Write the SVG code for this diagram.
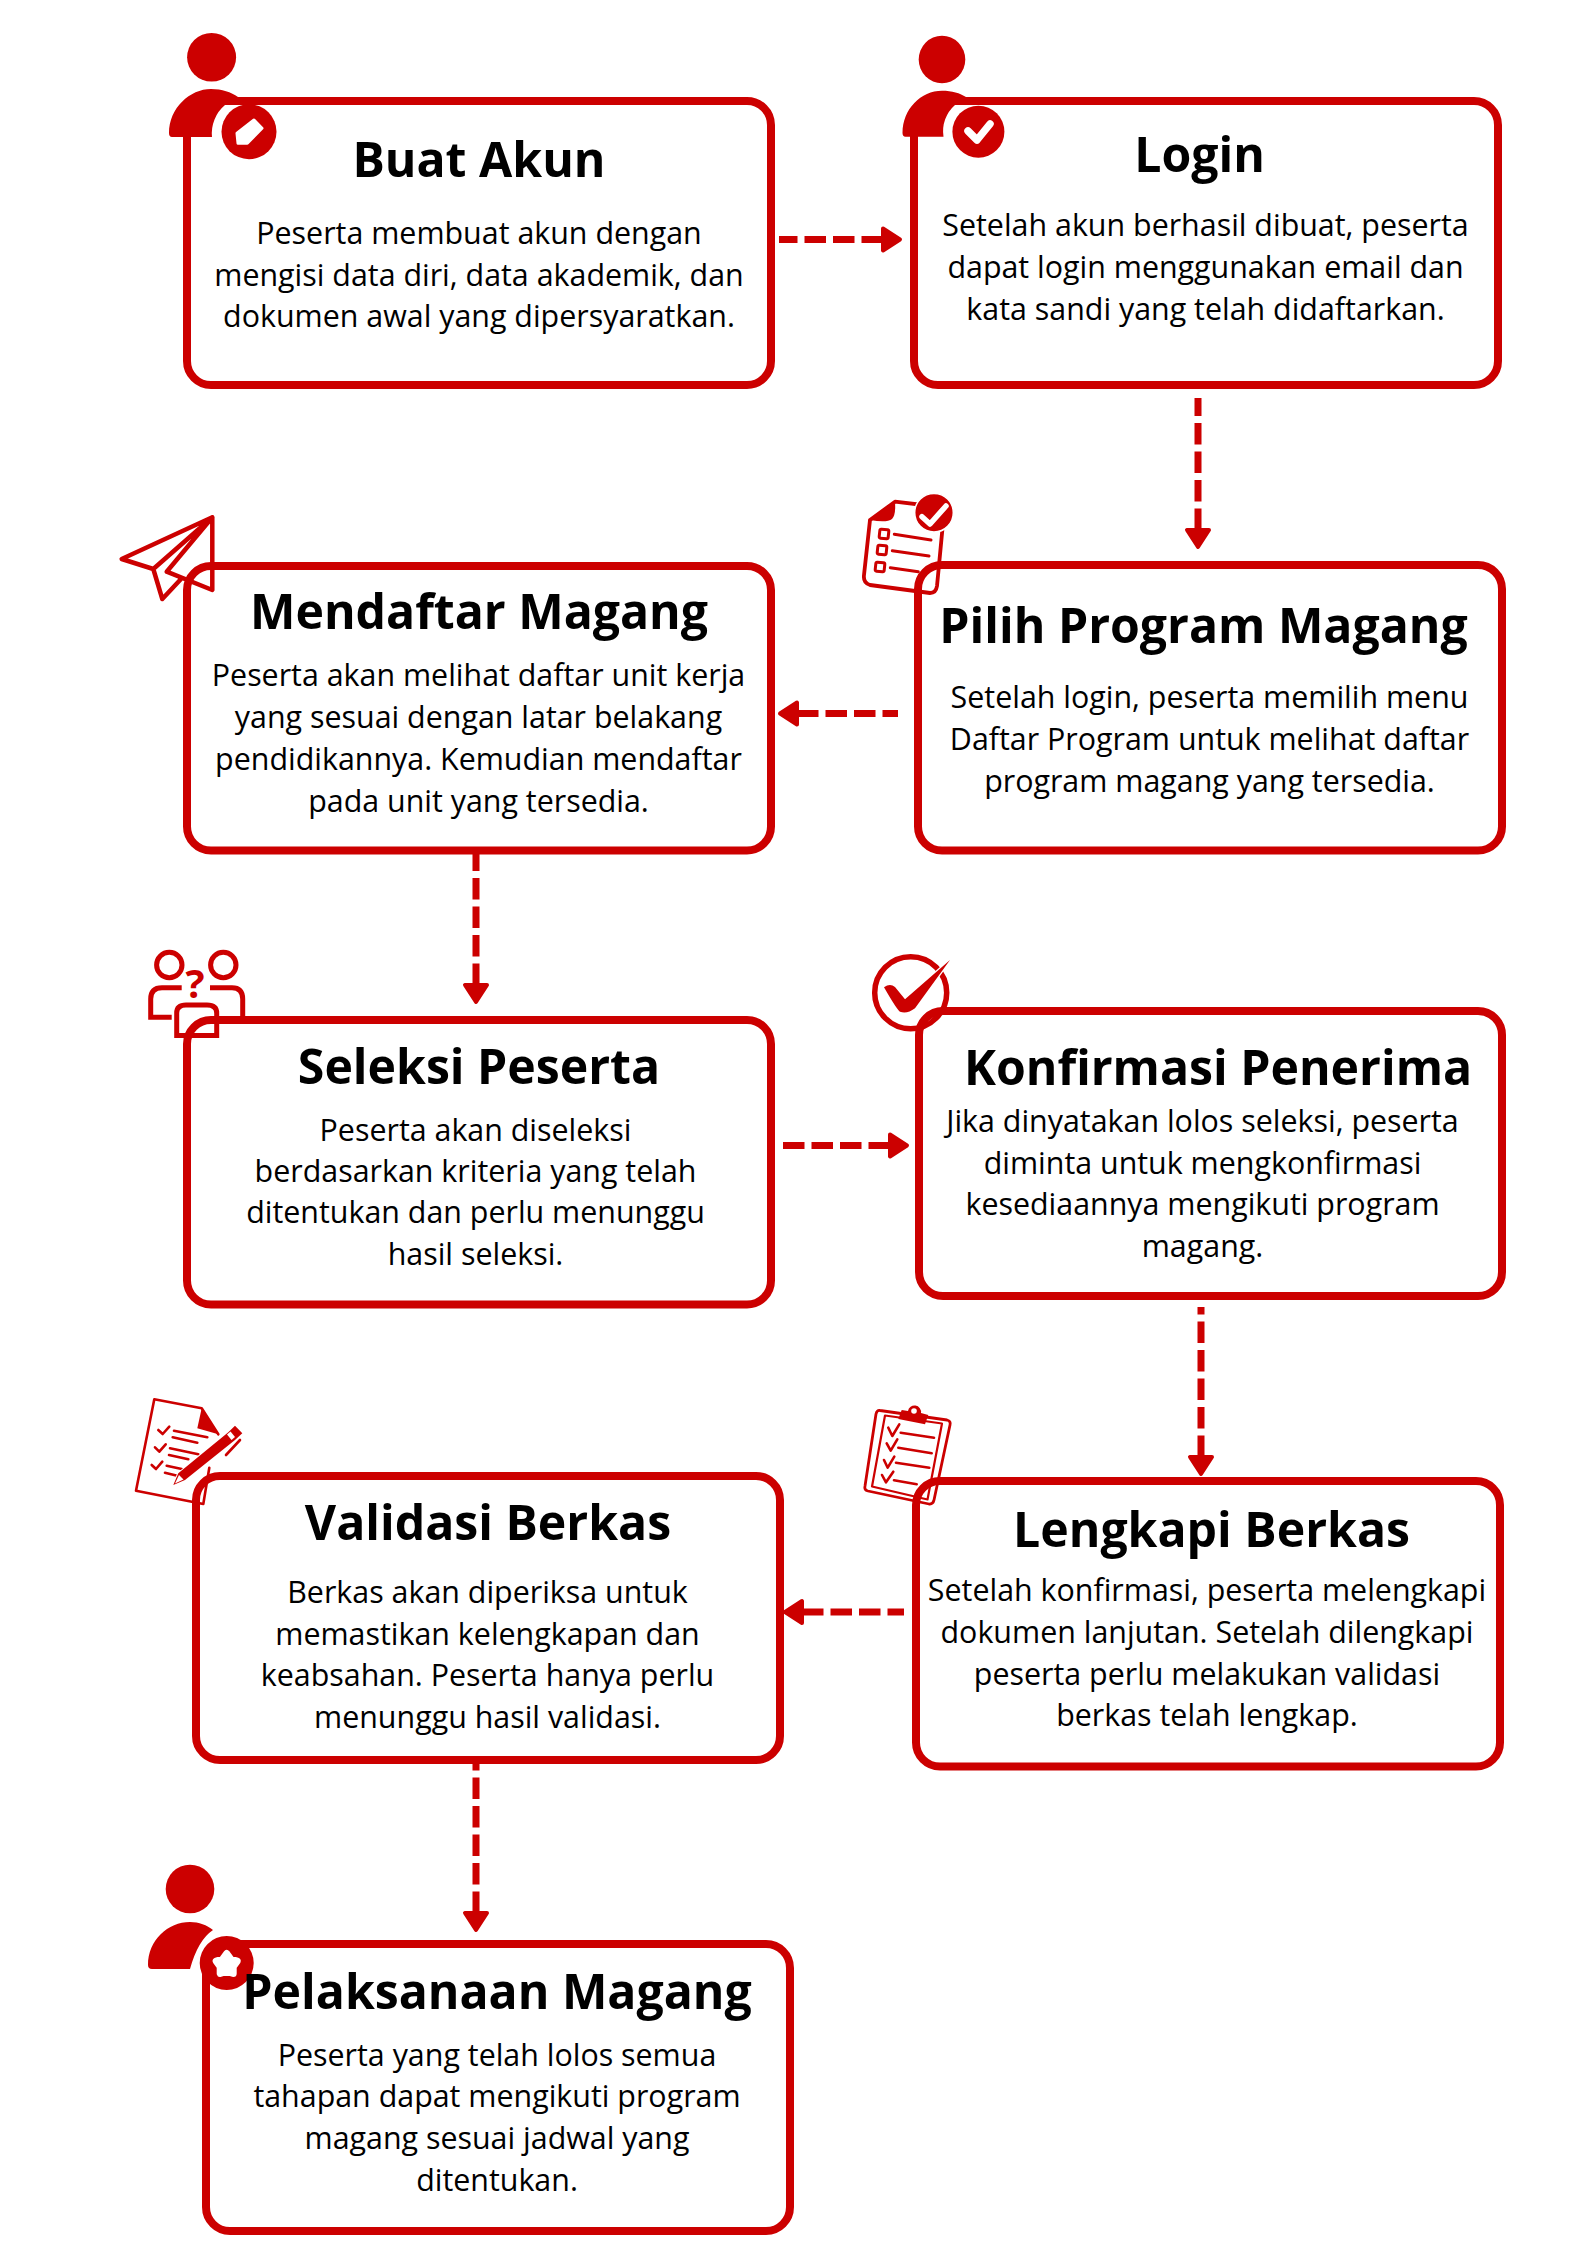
<svg xmlns="http://www.w3.org/2000/svg" width="1587" height="2245" viewBox="0 0 1587 2245">
<style>
.box{fill:#fff;stroke:#cc0000;stroke-width:8}
.t{font-family:"Open Sans","Noto Sans",sans-serif;font-weight:700;font-size:48.2px;fill:#000;text-anchor:middle}
.b{font-family:"Open Sans","Noto Sans",sans-serif;font-size:30.4px;fill:#000;text-anchor:middle}
.c{fill:none;stroke:#cc0000;stroke-width:7;stroke-dasharray:21.5 7}
.r{fill:#cc0000}
.o{fill:none;stroke:#cc0000;stroke-linejoin:round;stroke-linecap:round}
.w{fill:none;stroke:#fff;stroke-linejoin:round;stroke-linecap:round}
</style>
<defs>
<marker id="head" markerUnits="userSpaceOnUse" viewBox="0 0 24 32" refX="2" refY="16" markerWidth="24" markerHeight="32" orient="auto-start-reverse">
<path d="M2 5L19 16L2 27Z" fill="#cc0000" stroke="#cc0000" stroke-width="4" stroke-linejoin="round"/>
</marker>
</defs>
<rect width="1587" height="2245" fill="#fff"/>
<g id="connectors">
<path class="c" marker-start="url(#head)" d="M883 239.5H779"/>
<path class="c" marker-start="url(#head)" d="M1198 530V398"/>
<path class="c" marker-start="url(#head)" d="M797 713.5H898"/>
<path class="c" marker-start="url(#head)" d="M476 985V852"/>
<path class="c" marker-start="url(#head)" d="M890 1145.5H782"/>
<path class="c" marker-start="url(#head)" d="M1201 1457V1307"/>
<path class="c" marker-start="url(#head)" d="M802 1612H904"/>
<path class="c" marker-start="url(#head)" d="M476 1913V1760"/>
</g>
<g id="buat-akun">
<rect class="box" x="187" y="101" width="584" height="284" rx="24"/>
<ellipse class="r" cx="211.6" cy="57.3" rx="24.5" ry="24.3"/>
<path class="r" d="M172 137Q169 137 169 133C169 108 190 89 211 89C222 89 231 92 238 97L233 105H225A37 37 0 0 0 212 137Z"/>
<circle class="r" cx="249" cy="131.7" r="27.5"/>
<path d="M254 120L262 128.3L247.3 143.3H238L237 133.3Z" fill="#fff" stroke="#fff" stroke-width="3" stroke-linejoin="round"/>
<text class="t" x="479" y="177">Buat Akun</text>
<text class="b" x="479" y="244">Peserta membuat akun dengan</text>
<text class="b" x="479" y="286">mengisi data diri, data akademik, dan</text>
<text class="b" x="479" y="327">dokumen awal yang dipersyaratkan.</text>
</g>
<g id="login">
<rect class="box" x="914" y="101" width="584" height="284" rx="24"/>
<ellipse class="r" cx="942" cy="59.5" rx="23.3" ry="23.7"/>
<path class="r" d="M905.5 136.7Q902.5 136.7 902.5 133C902.5 109 921 90.7 942 90.7C952 90.7 960 93 966 97L961 105H955A35 35 0 0 0 943.5 136.7Z"/>
<circle class="r" cx="978.4" cy="131.7" r="26"/>
<path class="w" stroke-width="7.5" d="M968 131L977 140L990 124"/>
<text class="t" x="1199.5" y="172">Login</text>
<text class="b" x="1205.5" y="235.5">Setelah akun berhasil dibuat, peserta</text>
<text class="b" x="1205.5" y="277.5">dapat login menggunakan email dan</text>
<text class="b" x="1205.5" y="319.5">kata sandi yang telah didaftarkan.</text>
</g>
<g id="mendaftar-magang">
<rect class="box" x="187" y="566" width="584" height="284.5" rx="24"/>
<path class="o" stroke-width="4.5" d="M212.3 517.3L121.7 559L153.3 569L162.3 599L181.7 578.3M153.3 569L212.3 517.3M212.3 517.3L166.7 571.7L212.3 590Z"/>
<text class="t" x="479" y="628.5">Mendaftar Magang</text>
<text class="b" x="478.5" y="686">Peserta akan melihat daftar unit kerja</text>
<text class="b" x="478.5" y="728">yang sesuai dengan latar belakang</text>
<text class="b" x="478.5" y="769.5">pendidikannya. Kemudian mendaftar</text>
<text class="b" x="478.5" y="811.5">pada unit yang tersedia.</text>
</g>
<g id="pilih-program-magang">
<rect class="box" x="918" y="565" width="584" height="285.5" rx="24"/>
<path class="o" stroke-width="3.8" d="M870 520L895 501.7L940 507M870 520L864 575Q863 583 870 585L930 593Q936 593 937 586L943 523"/>
<path class="r" d="M870 520L895 501.7Q896 515 892 519Q887 523 870 520Z"/>
<g transform="rotate(6 884 534)"><rect class="o" stroke-width="3" x="879.5" y="529.5" width="9" height="9" rx="1.5"/></g>
<g transform="rotate(6 882 550)"><rect class="o" stroke-width="3" x="877.5" y="545.5" width="9" height="9" rx="1.5"/></g>
<g transform="rotate(6 880 567)"><rect class="o" stroke-width="3" x="875.5" y="562.5" width="9" height="9" rx="1.5"/></g>
<path class="o" stroke-width="3" d="M894.3 534.3L931 540M892.3 550.7L929 556M890.3 567.7L918.3 571.7"/>
<circle class="r" cx="934" cy="512.7" r="19.3" stroke="#fff" stroke-width="1.5"/>
<path class="w" stroke-width="5.5" d="M922 516.7L930 524L946 506"/>
<text class="t" x="1203.5" y="642.5">Pilih Program Magang</text>
<text class="b" x="1209.5" y="708">Setelah login, peserta memilih menu</text>
<text class="b" x="1209.5" y="750">Daftar Program untuk melihat daftar</text>
<text class="b" x="1209.5" y="791.5">program magang yang tersedia.</text>
</g>
<g id="seleksi-peserta">
<rect class="box" x="187" y="1020" width="584" height="284.5" rx="24"/>
<g fill="none" stroke="#cc0000" stroke-width="5">
<circle cx="169.3" cy="965" r="12.7"/>
<circle cx="223.3" cy="965" r="12.7"/>
<path d="M181.7 987.7H162Q150.7 987.7 150.7 999V1017.3H171.7"/>
<path d="M210 987.7H232Q242.7 987.7 242.7 999V1017.3"/>
<path d="M176.7 1035.5V1013Q176.7 1005 186 1005H207Q216.7 1005 216.7 1013V1035.5Z"/>
</g>
<text x="195" y="998.3" font-family="'Open Sans',sans-serif" font-weight="700" font-size="40" text-anchor="middle" fill="#cc0000">?</text>
<text class="t" x="479" y="1083.5">Seleksi Peserta</text>
<text class="b" x="475.5" y="1140.5">Peserta akan diseleksi</text>
<text class="b" x="475.5" y="1182">berdasarkan kriteria yang telah</text>
<text class="b" x="475.5" y="1223">ditentukan dan perlu menunggu</text>
<text class="b" x="475.5" y="1264.5">hasil seleksi.</text>
</g>
<g id="konfirmasi-penerima">
<rect class="box" x="919" y="1011" width="583" height="285" rx="24"/>
<circle class="o" stroke-width="5.5" cx="910.7" cy="992.7" r="36"/>
<path class="r" stroke="#fff" stroke-width="2.5" paint-order="stroke" d="M884 987.3Q890 983 895 987L905 999.3L950 960L915 1008.3Q907 1014.3 900 1011.7Q897 1010 884 987.3Z"/>
<text class="t" x="1218" y="1084.5">Konfirmasi Penerima</text>
<text class="b" x="1202.5" y="1131.5">Jika dinyatakan lolos seleksi, peserta</text>
<text class="b" x="1202.5" y="1173.5">diminta untuk mengkonfirmasi</text>
<text class="b" x="1202.5" y="1214.5">kesediaannya mengikuti program</text>
<text class="b" x="1202.5" y="1256.5">magang.</text>
</g>
<g id="validasi-berkas">
<rect class="box" x="196" y="1476" width="584" height="284" rx="24"/>
<path class="o" stroke-width="2.6" d="M218.3 1434.3L201.7 1408.3L154.3 1399.3L136 1490.7L203.3 1504L209.3 1467.7"/>
<path class="r" d="M201.7 1408.3L218.3 1434.3L197.3 1428.3Z"/>
<path class="o" stroke-width="2.6" d="M158.3 1430L162.7 1434L169.3 1426.7M155 1447.3L159.3 1451.7L165.7 1444.3M151.7 1465L156 1469L162.3 1461.7M174 1430.7L207.3 1437.3M172.7 1437.3L197.3 1442.7M170 1448.3L198.3 1454.3M169 1455L188.3 1459.3M166.7 1465.7L181.7 1469M165 1472.7L178.3 1476"/>
<path fill="#cc0000" stroke="#fff" stroke-width="2" paint-order="stroke" d="M173.3 1485L178.3 1473.3L228.3 1432.3L235 1425.7L242.3 1433.3L235 1440L185 1480Z"/>
<path fill="#fff" d="M175 1483.5L179 1475L183.5 1479.5Z"/>
<path fill="#fff" d="M227 1434.5L230.5 1431.5L235 1437L231.5 1440Z"/>
<path class="o" stroke-width="2.6" d="M240 1440L226 1455"/>
<text class="t" x="488" y="1539.5">Validasi Berkas</text>
<text class="b" x="487.5" y="1603">Berkas akan diperiksa untuk</text>
<text class="b" x="487.5" y="1644.5">memastikan kelengkapan dan</text>
<text class="b" x="487.5" y="1686">keabsahan. Peserta hanya perlu</text>
<text class="b" x="487.5" y="1727.5">menunggu hasil validasi.</text>
</g>
<g id="lengkapi-berkas">
<rect class="box" x="916" y="1481" width="584" height="285.5" rx="24"/>
<path class="o" stroke-width="2.8" d="M880 1410.5L947 1420Q951 1421 950 1425L934 1500Q933 1504.5 929 1504L868 1491Q864 1490 865 1486L876 1414Q877 1410 880 1410.5Z"/>
<path class="o" stroke-width="2.2" d="M885 1415.5L942 1423.5L927.5 1499.5L872 1486.5Z"/>
<path class="r" d="M901.7 1410L908 1411A6.5 6.5 0 0 1 921 1413L928.3 1415L925 1424.3L898.3 1419Z"/>
<circle cx="914" cy="1411" r="2.8" fill="#fff"/>
<path class="o" stroke-width="2.6" d="M888.3 1427.7L892.3 1436L899.3 1424.3M886.7 1443.3L890.7 1450.7L897.3 1439.3M884 1460L887.7 1467.7L894.3 1456.7M882 1475L886 1482.3L893.3 1471.7M900.7 1432.7L934 1437.7M898.3 1447.7L931.7 1453.3M896 1462.7L929.3 1467.7M894 1480.3L916.7 1484.3"/>
<text class="t" x="1211.5" y="1547">Lengkapi Berkas</text>
<text class="b" x="1207" y="1601">Setelah konfirmasi, peserta melengkapi</text>
<text class="b" x="1207" y="1643">dokumen lanjutan. Setelah dilengkapi</text>
<text class="b" x="1207" y="1684.5">peserta perlu melakukan validasi</text>
<text class="b" x="1207" y="1725.5">berkas telah lengkap.</text>
</g>
<g id="pelaksanaan-magang">
<rect class="box" x="206" y="1944" width="584" height="287" rx="24"/>
<circle class="r" cx="190" cy="1889" r="24.3"/>
<path class="r" d="M152 1969Q148 1969 148 1965C148 1940 168 1922 190 1922C199 1922 207 1925 213 1930Q198 1940 190 1969Z"/>
<circle class="r" cx="226.7" cy="1963" r="27"/>
<path transform="translate(226.7 1964.5)" d="M0-11L4-5.5L10.5-3.4L6.5 2.1L6.5 8.9L0 6.9L-6.5 8.9L-6.5 2.1L-10.5-3.4L-4-5.5Z" fill="#fff" stroke="#fff" stroke-width="7" stroke-linejoin="round"/>
<text class="t" x="497" y="2008.5">Pelaksanaan Magang</text>
<text class="b" x="497" y="2065.5">Peserta yang telah lolos semua</text>
<text class="b" x="497" y="2107">tahapan dapat mengikuti program</text>
<text class="b" x="497" y="2148.5">magang sesuai jadwal yang</text>
<text class="b" x="497" y="2190.5">ditentukan.</text>
</g>
</svg>
